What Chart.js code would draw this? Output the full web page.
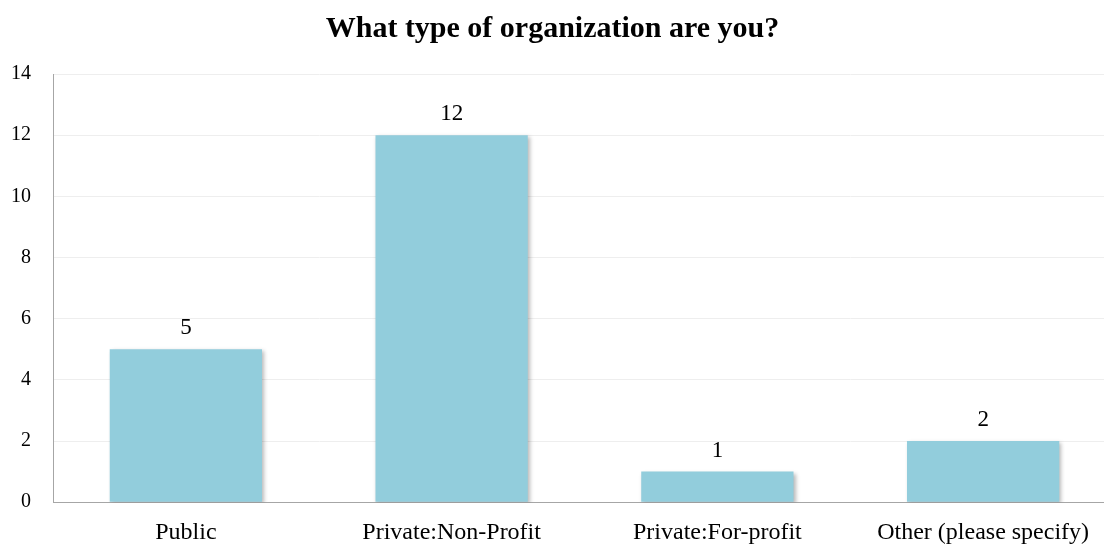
<!DOCTYPE html>
<html lang="en">
<head>
    <meta charset="UTF-8">
    <script src="https://cdn.jsdelivr.net/npm/chart.js"></script>
    <title>What type of organization are you?</title>
    <style>
        html, body { margin: 0; padding: 0; overflow: hidden; background: #fff; width: 1104px; height: 544px; }
        #wrap { position: relative; left: -19px; width: 1139px; height: 564px; }
    </style>
</head>
<body>
    <div id="wrap">
        <canvas id="myChart"></canvas>
    </div>
    <script>
        const categories = ["Public", "Private:Non-Profit", "Private:For-profit", "Other (please specify)"];
        const counts = [5, 12, 1, 2];
        const yTicks = [0, 2, 4, 6, 8, 10, 12, 14];

        const serif = "'Liberation Serif', 'Times New Roman', serif";

        // bar shadow, like the office chart
        const shadowPlugin = {
            id: 'shadow',
            beforeDatasetsDraw(chart) {
                const c = chart.ctx;
                c.save();
                c.shadowColor = 'rgba(0,0,0,0.28)';
                c.shadowBlur = 4;
                c.shadowOffsetX = 2;
                c.shadowOffsetY = 2;
            },
            afterDatasetsDraw(chart) {
                chart.ctx.restore();
            }
        };

        // value on top of each bar
        const labelPlugin = {
            id: 'valueLabels',
            afterDatasetsDraw(chart) {
                const c = chart.ctx;
                const meta = chart.getDatasetMeta(0);
                c.save();
                c.font = "23px " + serif;
                c.fillStyle = '#000';
                c.textAlign = 'center';
                c.textBaseline = 'alphabetic';
                meta.data.forEach((bar, i) => {
                    c.fillText(String(chart.data.datasets[0].data[i]), bar.x, bar.y - 15);
                });
                c.restore();
            }
        };

        const ctx = document.getElementById('myChart');
        const chart = new Chart(ctx, {
            type: 'bar',
            data: {
                labels: categories,
                datasets: [{
                    data: counts,
                    backgroundColor: '#92cddc',
                    borderWidth: 0,
                    categoryPercentage: 1,
                    barPercentage: 0.573
                }]
            },
            plugins: [shadowPlugin, labelPlugin],
            options: {
                responsive: true,
                maintainAspectRatio: false,
                animation: false,
                layout: { padding: { top: 2, left: 8, right: 4, bottom: 1 } },
                plugins: {
                    legend: { display: false },
                    tooltip: { enabled: false },
                    title: {
                        display: true,
                        text: 'What type of organization are you?',
                        color: '#000',
                        font: { family: serif, size: 30, weight: 'bold' },
                        padding: { top: 9, bottom: 27 }
                    }
                },
                scales: {
                    x: {
                        grid: { display: false, drawTicks: false },
                        border: { color: '#a6a6a6', width: 1 },
                        ticks: {
                            color: '#000',
                            font: { family: serif, size: 24 },
                            padding: 16,
                            maxRotation: 0
                        }
                    },
                    y: {
                        min: yTicks[0],
                        max: yTicks[yTicks.length - 1],
                        afterBuildTicks(axis) {
                            axis.ticks = yTicks.map(v => ({ value: v }));
                        },
                        grid: { color: '#eeeeee', drawTicks: false },
                        border: { color: '#a6a6a6', width: 1 },
                        ticks: {
                            color: '#000',
                            font: { family: serif, size: 20 },
                            padding: 22
                        }
                    }
                }
            }
        });
    </script>
</body>
</html>
